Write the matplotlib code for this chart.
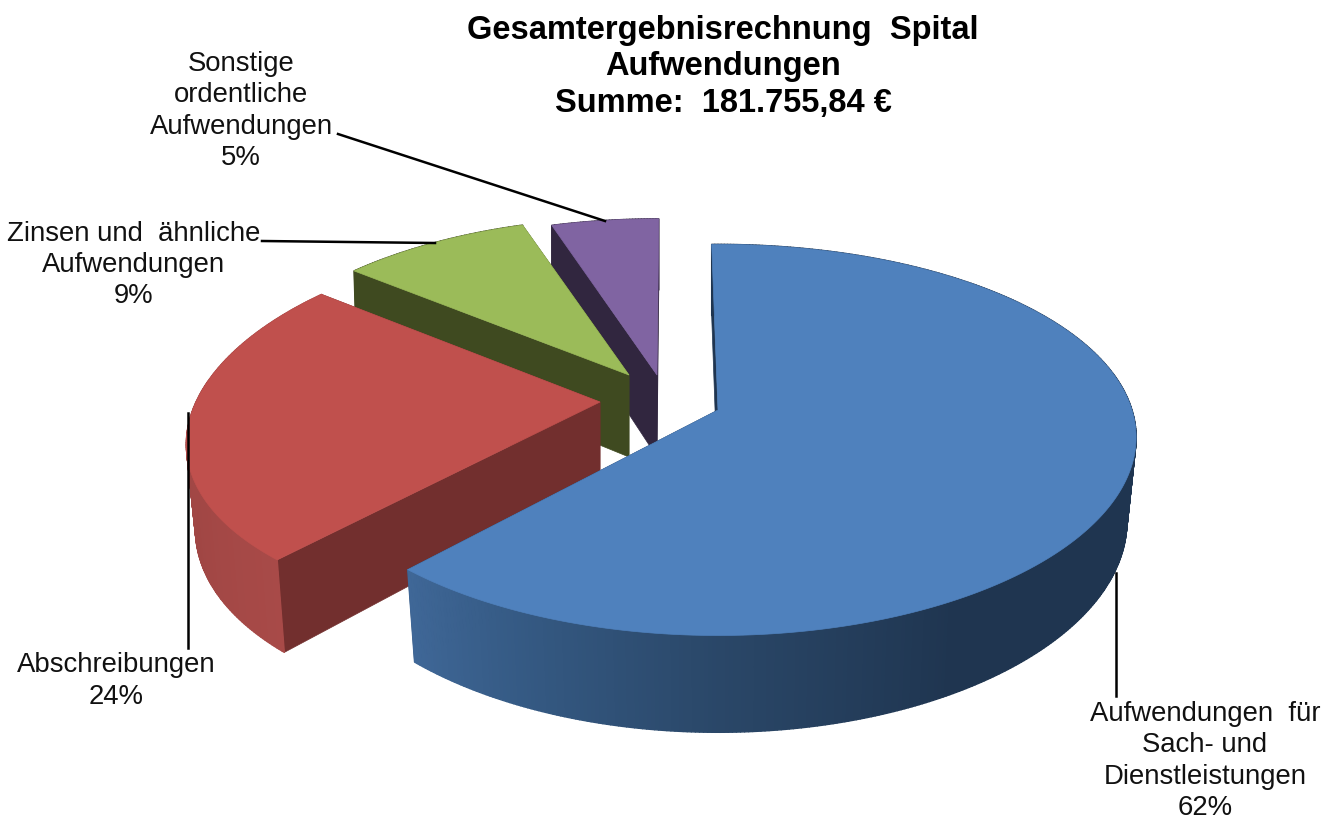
import numpy as np
import matplotlib
matplotlib.use("Agg")
import matplotlib.pyplot as plt
from matplotlib.collections import PolyCollection
from matplotlib.colors import to_rgb

plt.rcParams['font.family'] = ['Liberation Sans', 'DejaVu Sans']

# Data
categories = ["Aufwendungen  für\nSach- und\nDienstleistungen", "Abschreibungen",
              "Zinsen und  ähnliche\nAufwendungen", "Sonstige\nordentliche\nAufwendungen"]
shares = [62, 24, 9, 5]
title_lines = ["Gesamtergebnisrechnung  Spital", "Aufwendungen", "Summe:  181.755,84 €"]

# Colours per slice
top_colors = ["#4f81bd", "#c0504d", "#9bbb59", "#8064a2"]
inner_colors = ["#1f3550", "#722f2e", "#3f4a20", "#31263f"]

# Layout per slice: tip of the exploded slice in pixels, radii, x perspective, small rotation
tips = [(718, 410), (600, 402), (629, 375), (657, 375)]
rxs = [414, 404, 399, 412]
rys = [191, 189, 181, 180]
px = [0.14, 0.215, 0.20, 0.20]
rot = [-1.0, -1.0, -0.5, 0.3]
py, depth = 0.153, 82

label_pos = [(1205, 761), (116, 681), (134, 265), (241, 111)]
leaders = [[(1116, 573), (1116, 696)], [(188, 413), (188, 648)],
           [(262, 241), (435, 243)], [(338, 134), (605, 221)]]


def project(i, th, r=1.0, bottom=False):
    # angle in degrees clockwise from 12 o'clock, with simple perspective
    a = np.radians(th)
    sx = 1 / (1 + px[i] * r * np.cos(a))
    sy = 1 / (1 + py * r * np.cos(a))
    x = rxs[i] * r * np.sin(a) * sx
    y = -rys[i] * r * np.cos(a) * sy
    if bottom:
        x = x * (1 - 0.022 * (1 - np.maximum(np.cos(a), 0)))
        y = y + depth * sy
    return np.column_stack([tips[i][0] + x, tips[i][1] + y])


def outer_shade(i, th):
    if i == 0:
        stops = [(0, "#1f3550"), (150, "#1f3550"), (180, "#2a4768"), (205, "#355a84"), (222, "#3f6797")]
    elif i == 1:
        stops = [(222, "#a84a48"), (250, "#a04644"), (310, "#a84a48")]
    else:
        return to_rgb(inner_colors[i])
    xs = [p[0] for p in stops]
    rgb = np.array([to_rgb(p[1]) for p in stops])
    return tuple(np.interp(th, xs, rgb[:, k]) for k in range(3))


fig = plt.figure(figsize=(13.32, 8.19), dpi=100)
ax = fig.add_axes([0, 0, 1, 1])
ax.set_xlim(0, 1332)
ax.set_ylim(819, 0)
ax.axis("off")

edges = np.cumsum([0] + shares) * 3.6

# back slices first, blue last so it covers the others
for i in [3, 2, 1, 0]:
    th0, th1 = edges[i] + rot[i], edges[i + 1] + rot[i]
    ths = np.linspace(th0, th1, int(th1 - th0) * 2 + 2)
    top = project(i, ths)
    bot = project(i, ths, bottom=True)
    tip_top = project(i, np.array([0.0]), r=0.0)[0]
    tip_bot = project(i, np.array([0.0]), r=0.0, bottom=True)[0]

    # cut faces
    for pt, pb in [(top[0], bot[0]), (top[-1], bot[-1])]:
        ax.fill([tip_top[0], pt[0], pb[0], tip_bot[0]], [tip_top[1], pt[1], pb[1], tip_bot[1]],
                color=inner_colors[i], lw=0.5, zorder=i * -10 + 1)

    # outer wall, short quads so the colour can change along the rim
    quads = [[top[j], top[j + 1], bot[j + 1], bot[j]] for j in range(len(ths) - 1)]
    cols = [outer_shade(i, (ths[j] + ths[j + 1]) / 2) for j in range(len(ths) - 1)]
    ax.add_collection(PolyCollection(quads, facecolors=cols, edgecolors=cols, linewidths=1.0,
                                     zorder=i * -10 + 2))

    # top face
    face = np.vstack([tip_top, top])
    ax.fill(face[:, 0], face[:, 1], color=top_colors[i], lw=0.5, zorder=i * -10 + 3)

for pts in leaders:
    ax.plot([p[0] for p in pts], [p[1] for p in pts], color="black", lw=1.8, zorder=5)

for name, share, pos in zip(categories, shares, label_pos):
    ax.text(pos[0], pos[1], f"{name}\n{share}%", ha="center", va="center", fontsize=19.8,
            color="#111111", linespacing=1.27, zorder=6)

ax.text(723, 67, "\n".join(title_lines), ha="center", va="center", fontsize=23.5,
        fontweight="bold", color="black", linespacing=1.24, zorder=6)

fig.savefig("out.png", dpi=100)
